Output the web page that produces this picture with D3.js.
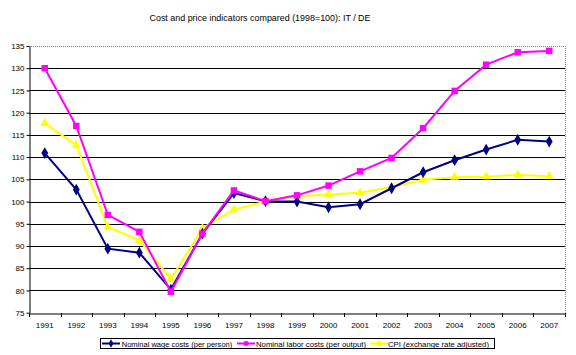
<!DOCTYPE html>
<html><head><meta charset="utf-8">
<script src="https://cdn.jsdelivr.net/npm/d3@7"></script>
<style>body{margin:0;background:#fff}text{font-family:"Liberation Sans",Arial,sans-serif}</style>
</head><body><svg id="c" width="576" height="355"></svg>
<script>
const years = ["1991","1992","1993","1994","1995","1996","1997","1998","1999","2000","2001","2002","2003","2004","2005","2006","2007"];
const wageCosts = [110.9,102.7,89.4,88.5,80.2,92.8,101.9,100.1,100.0,98.7,99.4,103.0,106.6,109.3,111.7,113.9,113.5];
const laborCosts = [130.0,117.0,97.0,93.2,79.7,92.8,102.5,100.1,101.4,103.6,106.8,109.8,116.5,124.9,130.8,133.6,133.9];
const cpi = [117.6,112.7,94.3,91.3,82.6,94.0,98.2,100.0,101.2,101.6,102.0,103.3,104.9,105.5,105.6,106.0,105.7];
const yTicks = [75,80,85,90,95,100,105,110,115,120,125,130,135];
const seriesNames = ["Nominal wage costs (per person)","Nominal labor costs (per output)","CPI (exchange rate adjusted)"];
const colors = ["#000080","#FF00FF","#FFFF00"];
const markers = ["diamond","square","triangle"];

const svg = d3.select("#c");
const L=29,R=565,T=46,B=312.7;
const x = d3.scaleBand().domain(years).range([L,R]);
const y = d3.scaleLinear().domain([75,135]).range([B,T]);

svg.append("text").attr("x",260).attr("y",21).attr("text-anchor","middle").attr("font-size",9).attr("textLength",221).attr("lengthAdjust","spacingAndGlyphs").text("Cost and price indicators compared (1998=100): IT / DE");

// gridlines
svg.append("g").selectAll("line").data(yTicks.filter(d=>d>75&&d<135)).join("line")
 .attr("x1",L).attr("x2",R).attr("y1",d=>Math.round(y(d))+0.5).attr("y2",d=>Math.round(y(d))+0.5)
 .attr("stroke","#000").attr("stroke-width",1);
// top & right dotted border
svg.append("path").attr("d",`M${L},${T+0.5}H${R+0.5}V${B}`).attr("fill","none").attr("stroke","#808080").attr("stroke-dasharray","1,1");

// y axis
const ya = svg.append("g").attr("transform",`translate(${L+0.5},0)`).call(d3.axisLeft(y).tickValues(yTicks).tickSize(3).tickSizeOuter(0));
ya.select(".domain").attr("stroke","#000");
ya.selectAll("text").attr("font-size",8).attr("font-family","Liberation Sans, Arial").attr("x",-5);
// x axis
const xa = svg.append("g").attr("transform",`translate(0,${Math.round(B)+0.5})`).call(d3.axisBottom(x).tickSize(0).tickSizeOuter(0));
xa.select(".domain").attr("stroke","#000");
xa.selectAll("text").attr("font-size",8).attr("font-family","Liberation Sans, Arial").attr("dy","0.71em").attr("y",9);
svg.append("g").selectAll("line").data(years.concat(["end"])).join("line")
 .attr("x1",(d,i)=>Math.round(L+i*x.step())+0.5).attr("x2",(d,i)=>Math.round(L+i*x.step())+0.5)
 .attr("y1",Math.round(B)).attr("y2",Math.round(B)+4).attr("stroke","#000");

const sym = {diamond:d3.symbol().type(d3.symbolDiamond).size(40),square:d3.symbol().type(d3.symbolSquare).size(42),triangle:d3.symbol().type(d3.symbolTriangle).size(36)};
const all=[wageCosts,laborCosts,cpi];
const line = d3.line().x((d,i)=>x(years[i])+x.bandwidth()/2).y(d=>y(d));
[2,0,1].forEach(k=>{
  const g=svg.append("g");
  g.append("path").attr("d",line(all[k])).attr("fill","none").attr("stroke",colors[k]).attr("stroke-width",2);
  g.selectAll("path.m").data(all[k]).join("path").attr("class","m")
   .attr("transform",(d,i)=>`translate(${x(years[i])+x.bandwidth()/2},${y(d)})`)
   .attr("d",sym[markers[k]]()).attr("fill",colors[k]);
});

// legend
const lg = svg.append("g");
lg.append("rect").attr("x",100.5).attr("y",338.5).attr("width",394).attr("height",10).attr("fill","#fff").attr("stroke","#000");
const lx=[102,237,370], tx=[121.7,256,388], tw=[110.6,110,101];
seriesNames.forEach((n,k)=>{
  lg.append("line").attr("x1",lx[k]).attr("x2",lx[k]+18).attr("y1",343.5).attr("y2",343.5).attr("stroke",colors[k]).attr("stroke-width",2);
  lg.append("path").attr("transform",`translate(${lx[k]+9},343.5)`).attr("d",d3.symbol().type([d3.symbolDiamond,d3.symbolSquare,d3.symbolTriangle][k]).size(20)()).attr("fill",colors[k]);
  lg.append("text").attr("x",tx[k]).attr("y",346.5).attr("font-size",8).attr("textLength",tw[k]).attr("lengthAdjust","spacingAndGlyphs").text(n);
});
</script></body></html>
